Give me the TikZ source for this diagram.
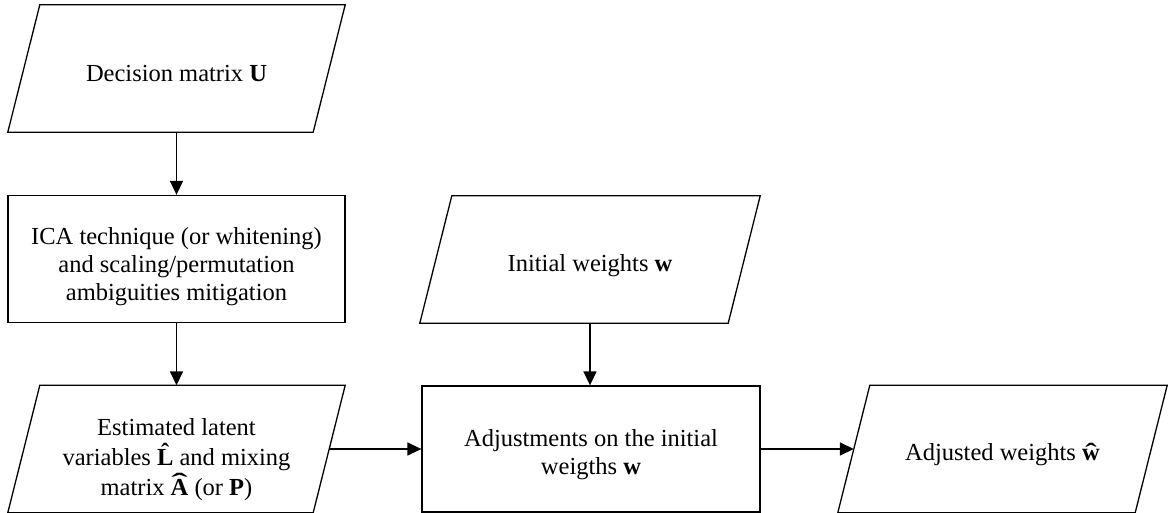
\documentclass[tikz,border=0pt]{standalone}
\usepackage{fontspec}
\setmainfont{Liberation Serif}
\usetikzlibrary{arrows.meta}
\newcommand\drawio[1]{\draw[shapeline] ([xshift=16pt]#1.north west) -- ([xshift=16pt]#1.north east) -- ([xshift=-16pt]#1.south east) -- ([xshift=-16pt]#1.south west) -- cycle;}
% letter with a circumflex: #1 raise, #2 horizontal stretch of the hat, #3 letter
\newcommand\hatted[3]{\ooalign{#3\cr\hidewidth\smash{\raisebox{#1}{\scalebox{#2}[1]{\char"02C6}}}\hidewidth\cr}}
\begin{document}
\begin{tikzpicture}[x=1pt,y=-1pt,
  txt/.style={font=\fontsize{24.5}{28}\selectfont, align=center, inner sep=0pt},
  shapeline/.style={line width=1.3pt},
  iobox/.style={inner sep=0pt, minimum height=127pt},
  procbox/.style={draw, shapeline, inner sep=0pt},
  flow/.style={line width=1.6pt, -{Triangle[length=14pt,width=13pt]}}]
\useasboundingbox (0,0) rectangle (1168,513);
% shapes
\node[iobox, minimum width=305pt] (dec) at (176.5,68.5) {};
\node[procbox, minimum width=337pt, minimum height=127pt] (ica) at (176.5,259) {};
\node[iobox, minimum width=305pt] (est) at (176.5,449) {};
\node[iobox, minimum width=308pt] (ini) at (590,259.5) {};
\node[procbox, minimum width=338pt, minimum height=126pt] (adj) at (591,449) {};
\node[iobox, minimum width=297pt] (res) at (1002.5,449) {};
\drawio{dec}
\drawio{est}
\drawio{ini}
\drawio{res}
% texts
\node[txt] (decT) at ([yshift=-5pt]dec.center) {Decision matrix \textbf{U}};
\node[txt] (icaT) at ([yshift=-8pt]ica.center) {ICA technique (or whitening)\\and scaling/permutation\\ambiguities mitigation};
\node[txt, font=\fontsize{24.5}{30}\selectfont] (estT) at ([yshift=-11pt]est.center) {Estimated latent\\variables \textbf{\hatted{0.22em}{1}{L}} and mixing\\matrix \textbf{\hatted{0.22em}{2}{A}} (or \textbf{P})};
\node[txt] (iniT) at ([yshift=-6pt]ini.center) {Initial weights \textbf{w}};
\node[txt] (adjT) at ([yshift=-6pt]adj.center) {Adjustments on the initial\\weigths \textbf{w}};
\node[txt] (resT) at ([yshift=-6pt]res.center) {Adjusted weights \textbf{\hatted{0pt}{1.4}{w}}};
% connectors
\draw[flow] (dec.south) -- (ica.north);
\draw[flow] (ica.south) -- (est.north);
\draw[flow] (est.east) -- (adj.west);
\draw[flow] (ini.south) -- (ini.south |- adj.north);
\draw[flow] (adj.east) -- (res.west);
\end{tikzpicture}
\end{document}
